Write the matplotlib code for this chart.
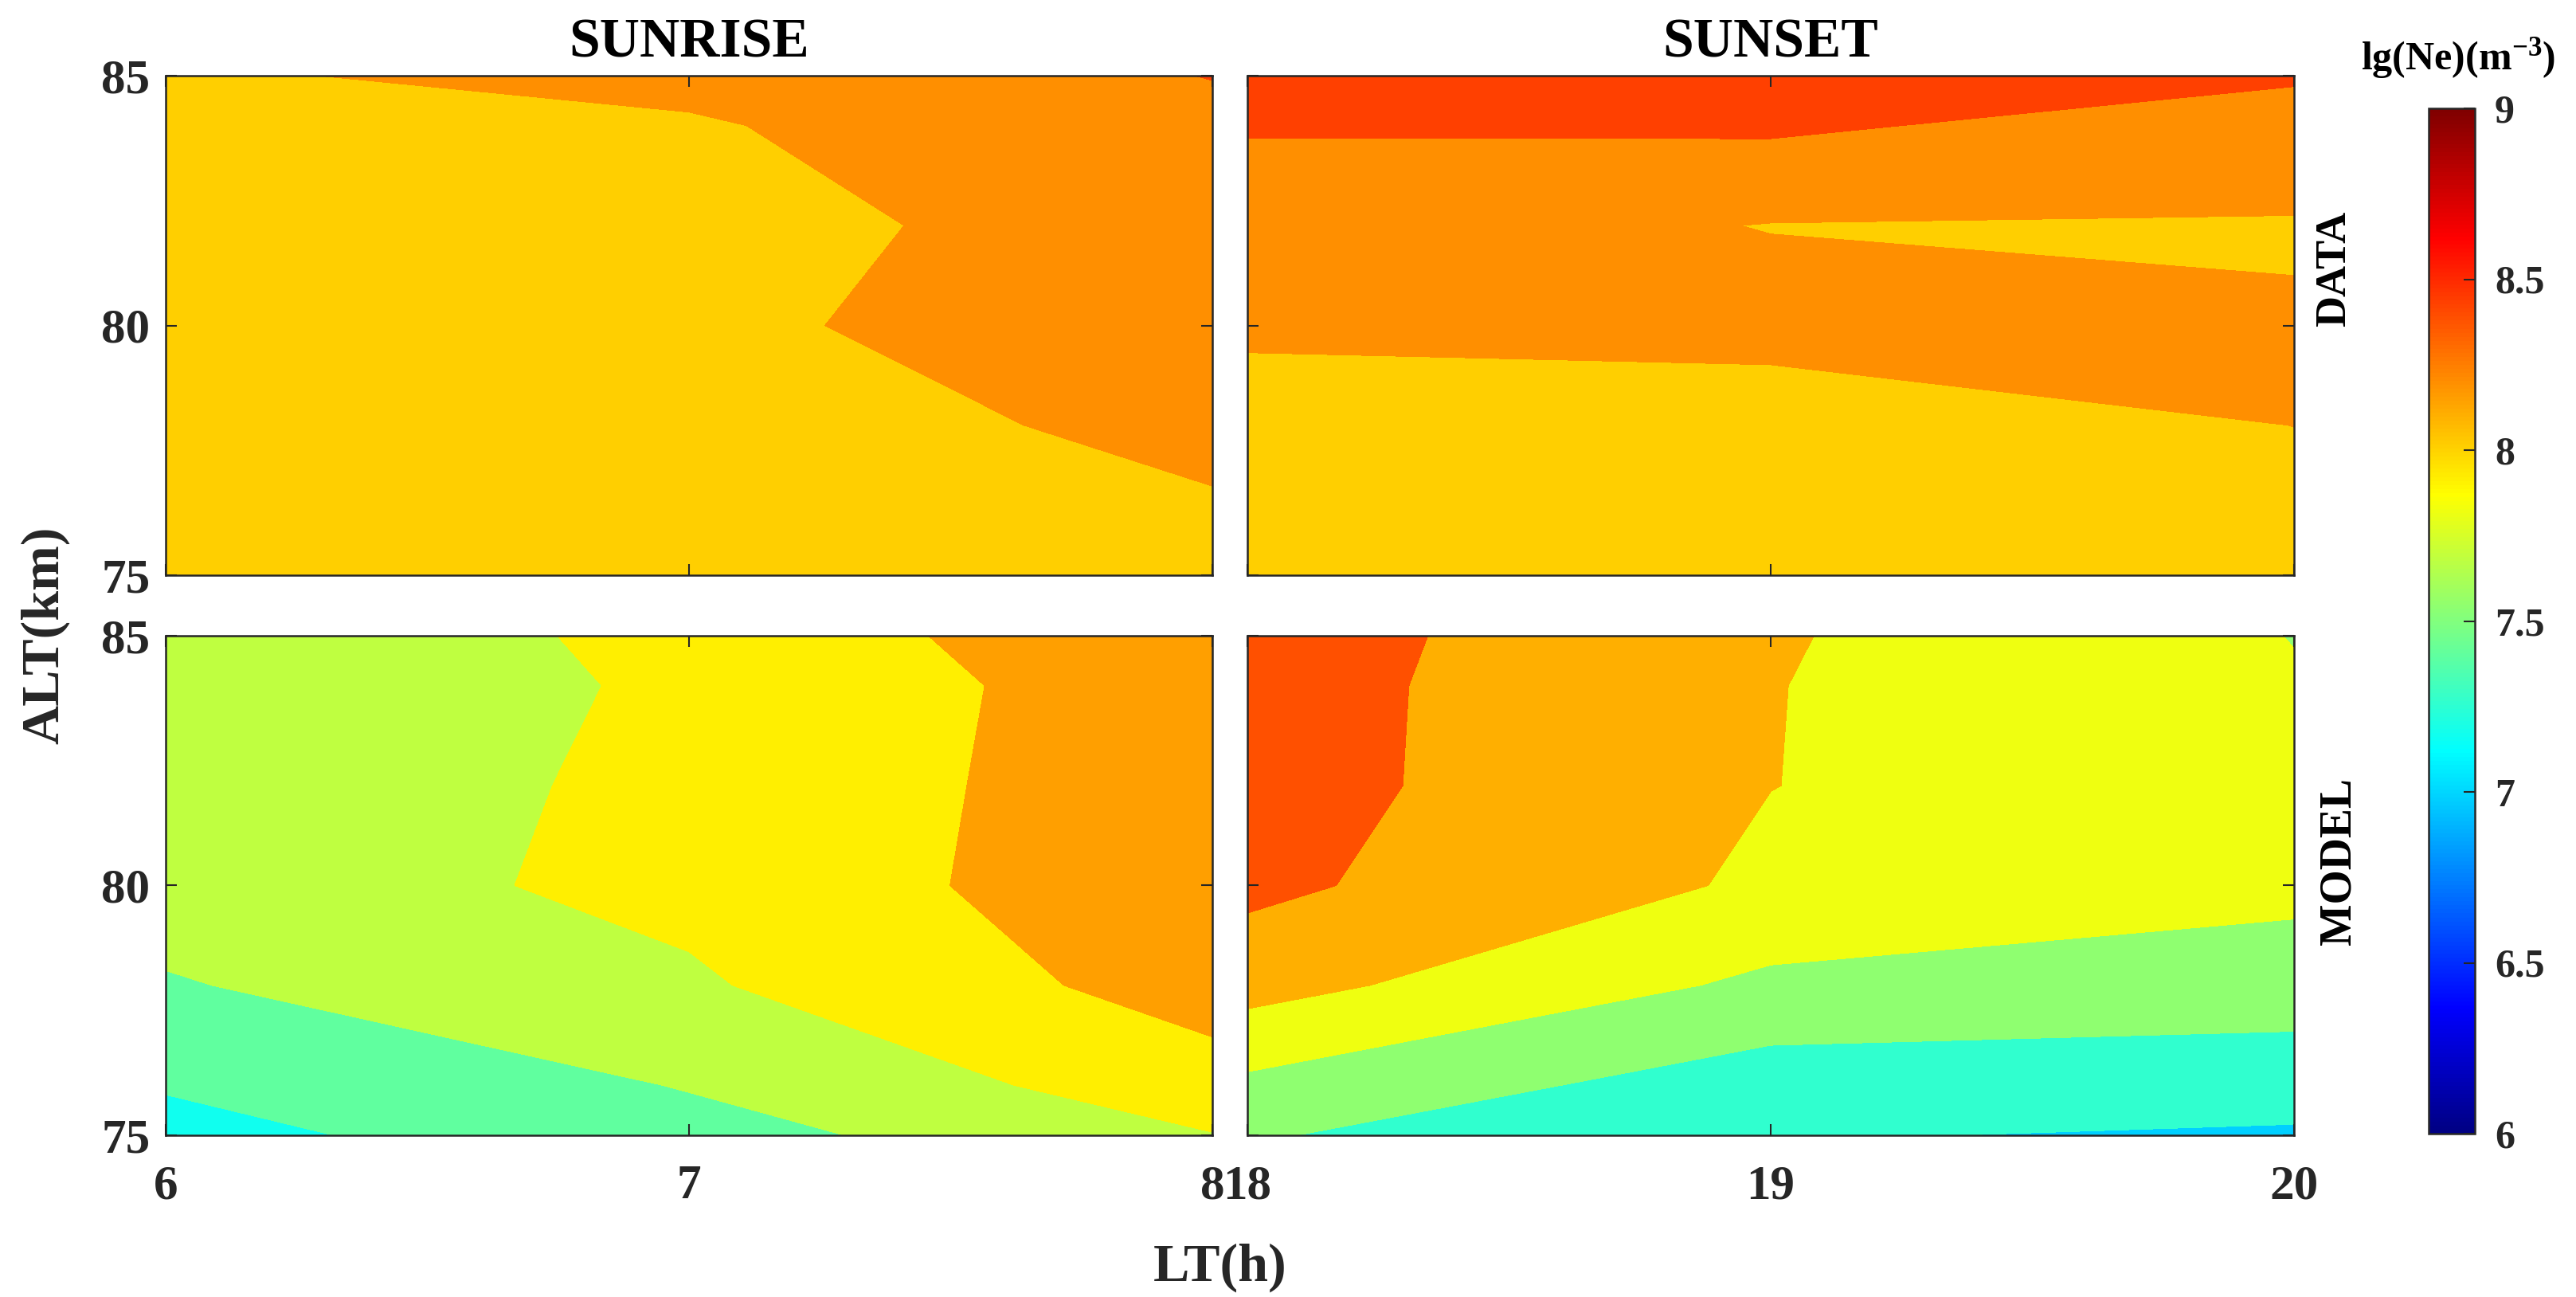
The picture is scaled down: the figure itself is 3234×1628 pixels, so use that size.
import numpy as np
import matplotlib
matplotlib.use("Agg")
import matplotlib.pyplot as plt
from matplotlib.colors import ListedColormap, Normalize
from matplotlib.cm import ScalarMappable

# grid: local time (h) x altitude (km)
lt_sunrise = [6, 7, 8]
lt_sunset = [18, 19, 20]
alt = [74, 76, 78, 80, 82, 84, 86]

# lg(Ne), one row per altitude
ne_data_sunrise = np.array([
    [8.030, 8.070, 8.140],
    [8.040, 8.100, 8.171],
    [8.060, 8.120, 8.245],
    [8.080, 8.160, 8.314],
    [8.100, 8.140, 8.286],
    [8.150, 8.180, 8.362],
    [8.227, 8.328, 8.446],
])
ne_data_sunset = np.array([
    [8.040, 8.030, 8.100],
    [8.080, 8.070, 8.150],
    [8.120, 8.100, 8.201],
    [8.230, 8.265, 8.212],
    [8.300, 8.194, 8.188],
    [8.414, 8.431, 8.307],
    [8.480, 8.490, 8.545],
])
ne_model_sunrise = np.array([
    [7.160, 7.495, 7.736],
    [7.425, 7.662, 8.045],
    [7.629, 7.867, 8.262],
    [7.770, 7.965, 8.336],
    [7.750, 7.953, 8.324],
    [7.760, 7.928, 8.321],
    [7.660, 8.022, 8.388],
])
ne_model_sunset = np.array([
    [7.380, 7.146, 7.000],
    [7.750, 7.383, 7.410],
    [8.194, 7.750, 7.632],
    [8.437, 8.043, 7.900],
    [8.487, 8.093, 7.943],
    [8.491, 8.099, 7.832],
    [8.513, 8.138, 7.773],
])

levels_data = [8.0, 8.2, 8.4, 8.6]
levels_model_sunrise = [7.15, 7.40, 7.65, 7.90, 8.15, 8.40]
levels_model_sunset = [6.97, 7.25, 7.53, 7.81, 8.09, 8.37, 8.65]

plt.rcParams['font.family'] = 'Liberation Serif'
plt.rcParams['font.weight'] = 'bold'
plt.rcParams['mathtext.fontset'] = 'custom'
plt.rcParams['mathtext.rm'] = 'Liberation Serif:bold'
plt.rcParams['mathtext.bf'] = 'Liberation Serif:bold'
plt.rcParams['mathtext.default'] = 'rm'


def matlab_jet(m):
    n = int(np.ceil(m / 4))
    u = np.concatenate([np.arange(1, n + 1) / n, np.ones(n - 1), np.arange(n, 0, -1) / n])
    g = int(np.ceil(n / 2)) - (m % 4 == 1) + np.arange(1, len(u) + 1)
    r = g + n
    b = g - n
    J = np.zeros((m, 3))
    J[r[r <= m] - 1, 0] = u[r <= m]
    J[g[g <= m] - 1, 1] = u[g <= m]
    J[b[b >= 1] - 1, 2] = u[b >= 1]
    return ListedColormap(J)


jet64 = matlab_jet(64)     # fill colours
jet256 = matlab_jet(256)   # smooth colorbar
norm = Normalize(6, 9)

W, H = 3234, 1628
fig = plt.figure(figsize=(W / 100, H / 100), dpi=100)
dark = '#262626'


def box(x0, y0, x1, y1):
    return [x0 / W, 1 - y1 / H, (x1 - x0) / W, (y1 - y0) / H]


panels = [
    (box(208, 95, 1522, 722), lt_sunrise, ne_data_sunrise, levels_data, True, False),
    (box(1566, 95, 2880, 722), lt_sunset, ne_data_sunset, levels_data, False, False),
    (box(208, 798, 1522, 1425), lt_sunrise, ne_model_sunrise, levels_model_sunrise, True, True),
    (box(1566, 798, 2880, 1425), lt_sunset, ne_model_sunset, levels_model_sunset, False, True),
]

for pos, lt, ne, lev, show_y, show_x in panels:
    ax = fig.add_axes(pos)
    # matlab fills each band with the colour of its lower level
    cols = [jet64(norm(v)) for v in lev[:-1]]
    ax.contourf(lt, alt, ne, levels=lev, colors=cols)
    ax.set_xlim(lt[0], lt[-1])
    ax.set_ylim(75, 85)
    ax.set_xticks(lt)
    ax.set_yticks([75, 80, 85])
    ax.tick_params(direction='in', top=True, right=True, length=10, width=1.5,
                   colors=dark, labelsize=44, labelleft=show_y, labelbottom=show_x)
    ax.tick_params(axis='x', pad=26)
    ax.tick_params(axis='y', pad=14)
    for s in ax.spines.values():
        s.set_linewidth(1.8)
        s.set_color(dark)

fig.text(865 / W, 1 - 71 / H, 'SUNRISE', ha='center', va='baseline', fontsize=50)
fig.text(2223 / W, 1 - 71 / H, 'SUNSET', ha='center', va='baseline', fontsize=50)
fig.text(2931 / W, 1 - 337 / H, 'DATA', rotation=90, ha='center', va='center', fontsize=39)
fig.text(2936 / W, 1 - 1081 / H, 'MODEL', rotation=90, ha='center', va='center', fontsize=40)
fig.text(57 / W, 1 - 797 / H, 'ALT(km)', rotation=90, ha='center', va='center',
         fontsize=49, color=dark)
fig.text(1532 / W, 1 - 1608 / H, 'LT(h)', ha='center', va='baseline', fontsize=49, color=dark)

cax = fig.add_axes(box(3049, 136, 3107, 1423))
cb = fig.colorbar(ScalarMappable(norm=norm, cmap=jet256), cax=cax,
                  ticks=[6, 6.5, 7, 7.5, 8, 8.5, 9])
cb.ax.set_yticklabels(['6', '6.5', '7', '7.5', '8', '8.5', '9'])
cax.tick_params(direction='in', length=10, width=1.5, colors=dark, labelsize=36, pad=18)
cb.outline.set_linewidth(1.8)
cb.outline.set_edgecolor(dark)
fig.text(3086 / W, 1 - 87 / H, 'lg(Ne)(m$^{-3}$)', ha='center', va='baseline', fontsize=36)

fig.savefig('out.png', dpi=100)
